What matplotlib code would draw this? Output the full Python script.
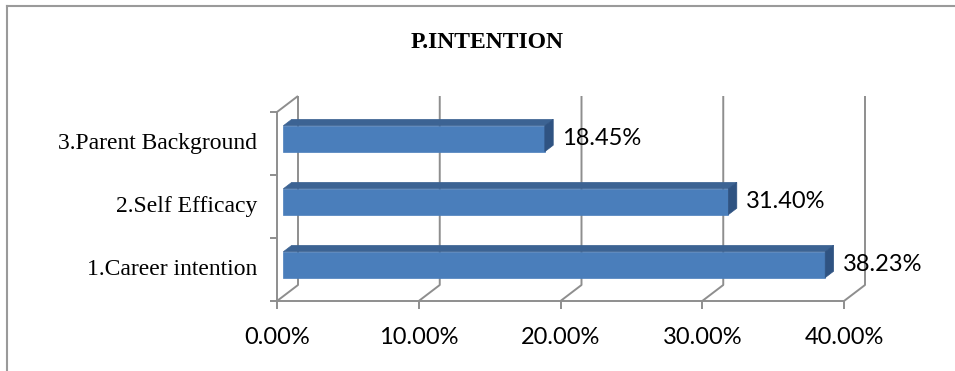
"""
plot.py - P.INTENTION horizontal bar chart drawn with a fake Excel-style 3D look.
"""

import matplotlib
matplotlib.use("Agg")
import matplotlib.pyplot as plt
from matplotlib.lines import Line2D
from matplotlib.patches import Polygon
from matplotlib.transforms import IdentityTransform, ScaledTranslation


categories = ["1.Career intention", "2.Self Efficacy", "3.Parent Background"]
values = [38.23, 31.40, 18.45]
value_labels = ["38.23%", "31.40%", "18.45%"]
x_ticks = [0, 10, 20, 30, 40]
x_tick_labels = ["0.00%", "10.00%", "20.00%", "30.00%", "40.00%"]
title = "P.INTENTION"

W, H, DPI = 955, 371, 100
DEPTH_X, DEPTH_Y = 21, 16          # pixels of depth offset (back wall vs front)
BAR_T0, BAR_T1 = 0.3, 0.7          # bar depth range as fraction of depth
BAR_H = 0.41

GRID = "#8e8e8e"
FRONT = "#4a7ebb"
TOP = "#3c6393"
SIDE = "#2f5382"
SERIF = ["Liberation Serif", "DejaVu Serif"]
SANS = ["Lato", "DejaVu Sans"]


def main():
    fig = plt.figure(figsize=(W / DPI, H / DPI), dpi=DPI)
    fig.patch.set_facecolor("white")
    ax = fig.add_axes([277 / W, 70 / H, (844 - 277) / W, 189 / H])
    ax.set_xlim(0, 40)
    ax.set_ylim(-0.5, len(categories) - 0.5)
    ax.axis("off")

    def px(x, y, t=0.0):
        # data point -> display pixels, pushed back by t of the depth
        dx, dy = ax.transData.transform((x, y))
        return (dx + t * DEPTH_X, dy + t * DEPTH_Y)

    def line(pts, **kw):
        xs = [p[0] for p in pts]
        ys = [p[1] for p in pts]
        ax.add_line(Line2D(xs, ys, transform=IdentityTransform(), clip_on=False,
                           color=GRID, lw=1.4, solid_capstyle="butt", **kw))

    y0, y1 = -0.5, len(categories) - 0.5

    # back wall gridlines + floor diagonals + front ticks
    for xv in x_ticks:
        line([px(xv, y0, 0), px(xv, y0, 1), px(xv, y1, 1)], zorder=1)
        line([px(xv, y0, 0), (px(xv, y0, 0)[0], px(xv, y0, 0)[1] - 8)], zorder=1)
    # front baseline
    line([px(0, y0, 0), px(40, y0, 0)], zorder=1)
    # left wall
    line([px(0, y0, 0), px(0, y1, 0), px(0, y1, 1)], zorder=1)
    for k in range(len(categories) + 1):
        p = px(0, y0 + k, 0)
        line([(p[0] - 7, p[1]), p], zorder=1)

    # bars
    for i, v in enumerate(values):
        lo, hi = i - BAR_H / 2, i + BAR_H / 2
        faces = [
            ([px(0, lo, BAR_T0), px(v, lo, BAR_T0), px(v, hi, BAR_T0), px(0, hi, BAR_T0)], FRONT),
            ([px(0, hi, BAR_T0), px(v, hi, BAR_T0), px(v, hi, BAR_T1), px(0, hi, BAR_T1)], TOP),
            ([px(v, lo, BAR_T0), px(v, hi, BAR_T0), px(v, hi, BAR_T1), px(v, lo, BAR_T1)], SIDE),
        ]
        for pts, col in faces:
            ax.add_patch(Polygon(pts, closed=True, facecolor=col, edgecolor=col,
                                 lw=0.5, transform=IdentityTransform(),
                                 clip_on=False, zorder=3))

        # value label just right of the bar end
        off = ScaledTranslation((BAR_T1 * DEPTH_X + 9) / DPI, BAR_T0 * DEPTH_Y / DPI,
                                fig.dpi_scale_trans)
        ax.text(v, i, value_labels[i], transform=ax.transData + off,
                ha="left", va="center", fontsize=17, family=SANS,
                color="black", zorder=5, clip_on=False)

        # category label
        off = ScaledTranslation(-20 / DPI, 0, fig.dpi_scale_trans)
        ax.text(0, i, categories[i], transform=ax.transData + off,
                ha="right", va="center", fontsize=17, family=SERIF, clip_on=False)

    # x tick labels
    off = ScaledTranslation(0, -36 / DPI, fig.dpi_scale_trans)
    for xv, lab in zip(x_ticks, x_tick_labels):
        ax.text(xv, y0, lab, transform=ax.transData + off, ha="center",
                va="center", fontsize=17, family=SANS, clip_on=False)

    fig.text(487 / W, 1 - 42 / H, title, ha="center", va="center",
             fontsize=17, fontweight="bold", family=SERIF)

    # chart frame (only top and left edges are visible in the crop)
    fig.add_artist(Line2D([7 / W, 1], [1 - 6 / H, 1 - 6 / H],
                          transform=fig.transFigure, color="#9a9a9a", lw=1.5))
    fig.add_artist(Line2D([7 / W, 7 / W], [0, 1 - 6 / H],
                          transform=fig.transFigure, color="#9a9a9a", lw=1.5))

    fig.savefig("out.png", dpi=DPI)
    plt.close(fig)


if __name__ == "__main__":
    main()
